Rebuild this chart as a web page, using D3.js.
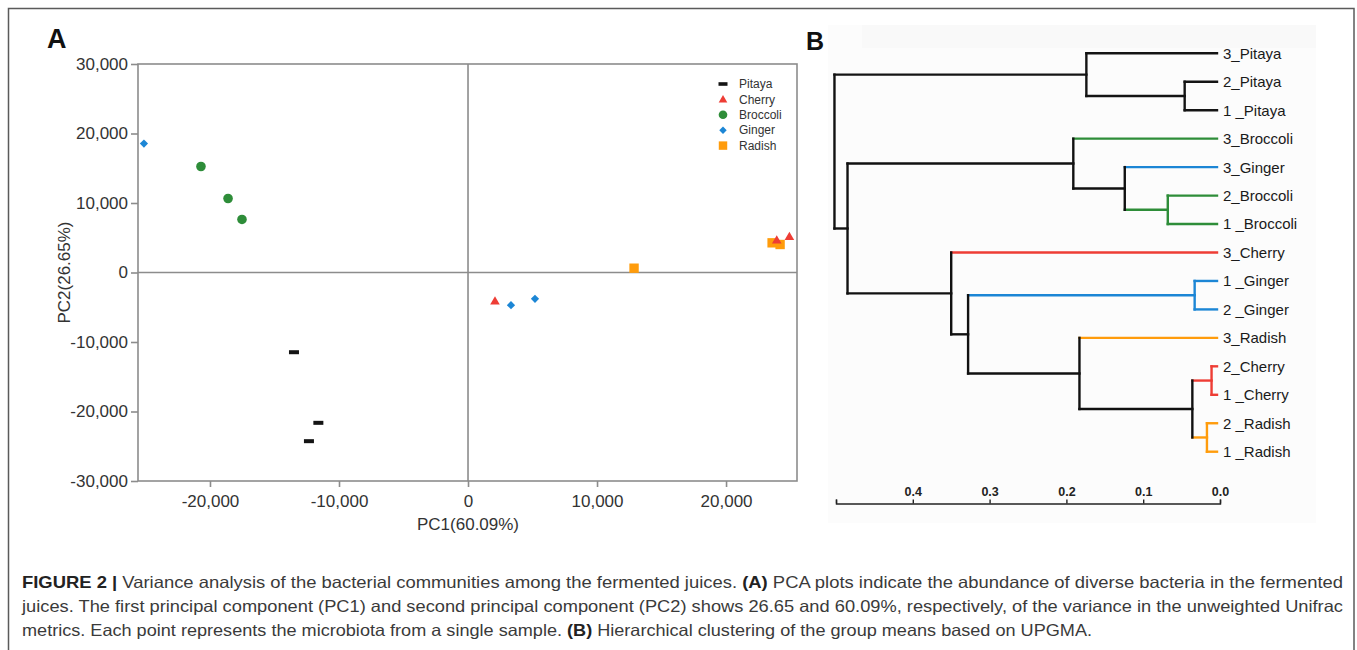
<!DOCTYPE html>
<html>
<head>
<meta charset="utf-8">
<script src="https://cdn.jsdelivr.net/npm/d3@7"></script>
<style>
  body { margin: 0; background: #fff; }
  svg { display: block; font-family: "Liberation Sans", Arial, Helvetica, sans-serif; }
</style>
</head>
<body>
<div id="chart"></div>
<script>
// ---- PCA data (panel A) ----
const groups = ["Pitaya", "Cherry", "Broccoli", "Ginger", "Radish"];
const groupColors = ["#141414", "#ee3d35", "#2e8d39", "#1c86d5", "#ff9c0c"];

const sampleGroup = ["Radish", "Radish", "Radish",
                     "Ginger", "Ginger", "Ginger",
                     "Broccoli", "Broccoli", "Broccoli",
                     "Pitaya", "Pitaya", "Pitaya",
                     "Cherry", "Cherry", "Cherry"];
const pc1 = [12870, 23570, 24190,
             -25120, 3330, 5190,
             -20700, -18600, -17520,
             -13490, -11600, -12330,
             2090, 23930, 24910];
const pc2 = [620, 4270, 4030,
             18560, -4700, -3780,
             15250, 10650, 7630,
             -11470, -21630, -24270,
             -4130, 4650, 5140];

const xTicks = [-20000, -10000, 0, 10000, 20000];
const yTicks = [-30000, -20000, -10000, 0, 10000, 20000, 30000];

// ---- UPGMA dendrogram data (panel B) ----
const leafLabels = ["3_Pitaya", "2_Pitaya", "1 _Pitaya", "3_Broccoli", "3_Ginger",
                    "2_Broccoli", "1 _Broccoli", "3_Cherry", "1 _Ginger", "2 _Ginger",
                    "3_Radish", "2_Cherry", "1 _Cherry", "2 _Radish", "1 _Radish"];
const leafGroup = ["Pitaya", "Pitaya", "Pitaya", "Broccoli", "Ginger",
                   "Broccoli", "Broccoli", "Cherry", "Ginger", "Ginger",
                   "Radish", "Cherry", "Cherry", "Radish", "Radish"];
// merges: node ids 0..14 are leaves, merge k creates node 15 + k
const mergeLeft   = [1, 0, 5, 4, 3, 11, 13, 20, 10, 8, 24, 7, 19, 16];
const mergeRight  = [2, 15, 6, 17, 18, 12, 14, 21, 22, 9, 23, 25, 26, 27];
const mergeHeight = [0.046, 0.174, 0.068, 0.124, 0.191, 0.011, 0.017, 0.036,
                     0.183, 0.033, 0.328, 0.350, 0.485, 0.502];
const distTicks = [0.5, 0.4, 0.3, 0.2, 0.1, 0.0];

const captionLines = [
  [["FIGURE 2 | ", true], ["Variance analysis of the bacterial communities among the fermented juices. ", false],
   ["(A)", true], [" PCA plots indicate the abundance of diverse bacteria in the fermented", false]],
  [["juices. The first principal component (PC1) and second principal component (PC2) shows 26.65 and 60.09%, respectively, of the variance in the unweighted Unifrac", false]],
  [["metrics. Each point represents the microbiota from a single sample. ", false], ["(B)", true],
   [" Hierarchical clustering of the group means based on UPGMA.", false]]
];

const width = 1357;
const height = 650;
const color = d3.scaleOrdinal().domain(groups).range(groupColors);

const svg = d3.select("#chart").append("svg")
  .attr("width", width)
  .attr("height", height);

svg.append("rect").attr("width", width).attr("height", height).attr("fill", "#fff");

// outer figure frame (bottom edge runs off the page)
svg.append("rect")
  .attr("x", 8.5).attr("y", 8.5)
  .attr("width", 1345.5).attr("height", 700)
  .attr("fill", "none").attr("stroke", "#5a5a5a").attr("stroke-width", 1.5);

// ================= Panel A: PCA =================
const plot = { left: 138, right: 797, top: 64, bottom: 481 };
const xScale = d3.scaleLinear().domain([-25580, 25500]).range([plot.left, plot.right]);
const yScale = d3.scaleLinear().domain([-30000, 30000]).range([plot.bottom, plot.top]);
const fmt = (d) => d3.format(",")(d).replace("\u2212", "-");

svg.append("text")
  .attr("x", 47).attr("y", 48)
  .attr("font-size", 27).attr("font-weight", "bold").attr("fill", "#111")
  .text("A");

const gA = svg.append("g");

gA.append("rect")
  .attr("x", plot.left).attr("y", plot.top)
  .attr("width", plot.right - plot.left).attr("height", plot.bottom - plot.top)
  .attr("fill", "none").attr("stroke", "#8c8c8c").attr("stroke-width", 1.6);

// zero lines
gA.append("line")
  .attr("x1", xScale(0)).attr("x2", xScale(0))
  .attr("y1", plot.top).attr("y2", plot.bottom)
  .attr("stroke", "#8c8c8c").attr("stroke-width", 1.6);
gA.append("line")
  .attr("x1", plot.left).attr("x2", plot.right)
  .attr("y1", yScale(0)).attr("y2", yScale(0))
  .attr("stroke", "#8c8c8c").attr("stroke-width", 1.6);

const yAxis = gA.append("g")
  .attr("transform", `translate(${plot.left},0)`)
  .call(d3.axisLeft(yScale).tickValues(yTicks).tickSize(7).tickPadding(3).tickFormat(fmt));
const xAxis = gA.append("g")
  .attr("transform", `translate(0,${plot.bottom})`)
  .call(d3.axisBottom(xScale).tickValues(xTicks).tickSize(6).tickPadding(8).tickFormat(fmt));

[yAxis, xAxis].forEach((g) => {
  g.select(".domain").remove();
  g.selectAll(".tick line").attr("stroke", "#8c8c8c").attr("stroke-width", 1.6);
  g.selectAll(".tick text")
    .attr("fill", "#333")
    .attr("font-size", 17)
    .attr("font-family", "Liberation Sans, Arial, sans-serif");
});

gA.append("text")
  .attr("x", xScale(0)).attr("y", 530)
  .attr("text-anchor", "middle")
  .attr("font-size", 17).attr("fill", "#333")
  .text("PC1(60.09%)");

gA.append("text")
  .attr("transform", `translate(70,${yScale(0)}) rotate(-90)`)
  .attr("text-anchor", "middle")
  .attr("font-size", 17).attr("fill", "#333")
  .text("PC2(26.65%)");

// marker shapes per group
function drawMarker(sel, group, scale) {
  const c = color(group);
  const s = scale || 1;
  if (group === "Pitaya") {
    sel.append("rect")
      .attr("x", -5 * s).attr("y", -2 * s).attr("width", 10 * s).attr("height", 4 * s)
      .attr("fill", c);
  } else if (group === "Cherry") {
    sel.append("path").attr("d", d3.symbol(d3.symbolTriangle, 40 * s * s)()).attr("fill", c)
      .attr("transform", "translate(0,0.5)");
  } else if (group === "Broccoli") {
    sel.append("circle").attr("r", 4.8 * s).attr("fill", c);
  } else if (group === "Ginger") {
    sel.append("path").attr("d", d3.symbol(d3.symbolSquare, 34 * s * s)()).attr("fill", c)
      .attr("transform", "rotate(45)");
  } else {
    sel.append("path").attr("d", d3.symbol(d3.symbolSquare, 88 * s * s)()).attr("fill", c);
  }
}

const points = d3.range(pc1.length).map((i) => ({ g: sampleGroup[i], x: pc1[i], y: pc2[i] }));
gA.append("g")
  .selectAll("g")
  .data(points)
  .join("g")
  .attr("transform", (d) => `translate(${xScale(d.x)},${yScale(d.y)})`)
  .each(function (d) { drawMarker(d3.select(this), d.g, 1); });

// legend
const legend = gA.append("g").attr("transform", "translate(723,84)");
const legRows = legend.selectAll("g")
  .data(groups)
  .join("g")
  .attr("transform", (d, i) => `translate(0,${i * 15.4})`);
legRows.each(function (d) { drawMarker(d3.select(this), d, 0.9); });
legRows.append("text")
  .attr("x", 16).attr("dy", "0.35em")
  .attr("font-size", 12).attr("fill", "#333")
  .text((d) => d);

// ================= Panel B: dendrogram =================
const gB = svg.append("g");

gB.append("rect")
  .attr("x", 828).attr("y", 25).attr("width", 488).attr("height", 498)
  .attr("fill", "#fcfcfc");
gB.append("rect")
  .attr("x", 862).attr("y", 25).attr("width", 454).attr("height", 23)
  .attr("fill", "#f9f9f9");

svg.append("text")
  .attr("x", 806).attr("y", 50)
  .attr("font-size", 25).attr("font-weight", "bold").attr("fill", "#111")
  .text("B");

const hScale = d3.scaleLinear().domain([0.5, 0]).range([836, 1220]);
const leafY = d3.scalePoint().domain(d3.range(leafLabels.length)).range([53.3, 451.7]);

// build node table
const nodes = leafLabels.map((lab, i) => ({
  h: 0, y: leafY(i), groups: new Set([leafGroup[i]])
}));
mergeLeft.forEach((l, k) => {
  const a = nodes[l], b = nodes[mergeRight[k]];
  nodes.push({
    h: mergeHeight[k],
    y: (a.y + b.y) / 2,
    kids: [l, mergeRight[k]],
    groups: new Set([...a.groups, ...b.groups])
  });
});
const nodeColor = (n) => (n.groups.size === 1 ? color([...n.groups][0]) : "#111");

const hSegs = [];
const vSegs = [];
nodes.forEach((n) => {
  if (!n.kids) return;
  const [a, b] = n.kids.map((k) => nodes[k]);
  [a, b].forEach((c) => hSegs.push({
    x1: hScale(n.h),
    x2: hScale(c.h) - (c.kids ? 0 : 3),
    y: c.y, col: nodeColor(c)
  }));
  vSegs.push({ x: hScale(n.h), y1: a.y, y2: b.y, col: nodeColor(n) });
});

gB.append("g").selectAll("line")
  .data(hSegs)
  .join("line")
  .attr("x1", (d) => d.x1).attr("x2", (d) => d.x2)
  .attr("y1", (d) => d.y).attr("y2", (d) => d.y)
  .attr("stroke", (d) => d.col)
  .attr("stroke-width", 2.4)
  .attr("stroke-linecap", "square");

gB.append("g").selectAll("line")
  .data(vSegs)
  .join("line")
  .attr("x1", (d) => d.x).attr("x2", (d) => d.x)
  .attr("y1", (d) => d.y1).attr("y2", (d) => d.y2)
  .attr("stroke", (d) => d.col)
  .attr("stroke-width", 2.4)
  .attr("stroke-linecap", "square");

gB.append("g").selectAll("text")
  .data(leafLabels)
  .join("text")
  .attr("x", hScale(0) + 3)
  .attr("y", (d, i) => leafY(i))
  .attr("dy", "0.36em")
  .attr("font-size", 15).attr("fill", "#1a1a1a")
  .text((d) => d);

const distAxis = gB.append("g")
  .attr("transform", "translate(0,503.5)")
  .call(d3.axisTop(hScale).tickValues(distTicks).tickSize(4).tickPadding(4)
    .tickFormat((d) => (d === 0.5 ? "" : d3.format(".1f")(d))));
distAxis.select(".domain").attr("stroke", "#222").attr("stroke-width", 1.4);
distAxis.selectAll(".tick line").attr("stroke", "#222").attr("stroke-width", 1.4);
distAxis.selectAll(".tick text")
  .attr("fill", "#222").attr("font-size", 12.5).attr("font-weight", "bold")
  .attr("font-family", "Liberation Sans, Arial, sans-serif");

// ================= Caption =================
const capY = [588, 612, 636];
const capLen = [1321, 1321, 1070];
captionLines.forEach((parts, i) => {
  const t = svg.append("text")
    .attr("x", 22).attr("y", capY[i])
    .attr("font-size", 16.5).attr("fill", "#3a3a3a")
    .attr("textLength", capLen[i])
    .attr("lengthAdjust", "spacingAndGlyphs")
    .style("white-space", "pre");
  parts.forEach(([s, b]) => {
    t.append("tspan").attr("font-weight", b ? "bold" : "normal")
      .attr("fill", b ? "#222" : "#3a3a3a").text(s);
  });
});
</script>
</body>
</html>
